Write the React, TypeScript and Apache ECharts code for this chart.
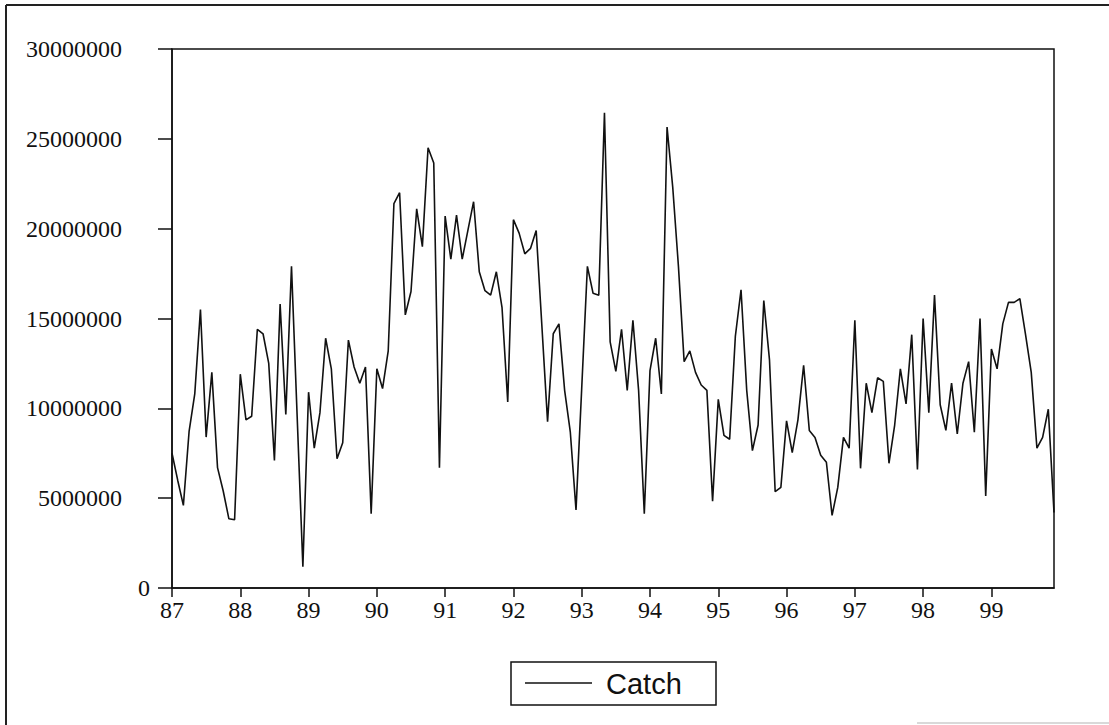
import React, { useEffect, useRef } from 'react';
import * as echarts from 'echarts';

const years = ['87', '88', '89', '90', '91', '92', '93', '94', '95', '96', '97', '98', '99'];
const monthCodes = ['01', '02', '03', '04', '05', '06', '07', '08', '09', '10', '11', '12'];
const categories = years.flatMap((y) => monthCodes.map((m) => `${y}:${m}`));

const catchValues = [
  7500000, 6000000, 4600000, 8700000, 10800000, 15500000, 8400000, 12000000, 6700000, 5400000, 3850000, 3800000,
  11900000, 9360000, 9560000, 14400000, 14150000, 12500000, 7100000, 15800000, 9660000, 17900000, 9500000, 1180000,
  10900000, 7780000, 9760000, 13900000, 12200000, 7190000, 8080000, 13800000, 12300000, 11400000, 12300000, 4140000,
  12200000, 11100000, 13200000, 21400000, 22000000, 15200000, 16500000, 21100000, 19000000, 24500000, 23650000, 6700000,
  20700000, 18300000, 20750000, 18300000, 19900000, 21500000, 17600000, 16550000, 16300000, 17600000, 15600000, 10350000,
  20500000, 19750000, 18600000, 18900000, 19900000, 14600000, 9260000, 14150000, 14700000, 11000000, 8670000, 4340000,
  11100000, 17900000, 16400000, 16300000, 26450000, 13700000, 12060000, 14400000, 11000000, 14900000, 11000000, 4140000,
  12100000, 13900000, 10800000, 25660000, 22300000, 17900000, 12600000, 13200000, 12000000, 11300000, 11000000, 4830000,
  10500000, 8500000, 8280000, 14000000, 16600000, 11000000, 7650000, 9070000, 16000000, 12700000, 5360000, 5600000,
  9300000, 7530000, 9360000, 12400000, 8770000, 8380000, 7390000, 7000000, 4040000, 5600000, 8380000, 7780000,
  14900000, 6660000, 11400000, 9760000, 11700000, 11500000, 6940000, 9070000, 12200000, 10250000, 14100000, 6600000,
  15000000, 9760000, 16300000, 10200000, 8770000, 11400000, 8570000, 11400000, 12600000, 8670000, 15000000, 5120000,
  13300000, 12200000, 14700000, 15900000, 15900000, 16100000, 14100000, 12000000, 7780000, 8380000, 9950000, 4200000,
];

const yMin = 0;
const yMax = 30000000;
const yStep = 5000000;
const seriesName = 'Catch';

const serif = '"Liberation Serif", "Times New Roman", serif';
const sans = '"Liberation Sans", Arial, sans-serif';
const ink = '#111';

export default function App() {
  const ref = useRef<HTMLDivElement>(null);

  useEffect(() => {
    if (!ref.current) return;
    const chart = echarts.init(ref.current, null, { renderer: 'svg' });
    chart.setOption({
      animation: false,
      backgroundColor: '#ffffff',
      grid: {
        left: 172,
        right: 55,
        top: 49,
        bottom: 137,
        show: true,
        borderColor: ink,
        borderWidth: 1.5,
        backgroundColor: 'transparent',
      },
      xAxis: {
        type: 'category',
        data: categories,
        boundaryGap: false,
        axisLine: { show: true, lineStyle: { color: ink, width: 1.5 } },
        axisTick: {
          show: true,
          interval: (i: number) => i % 12 === 0,
          length: 9,
          lineStyle: { color: ink, width: 1.5 },
        },
        axisLabel: {
          interval: (i: number) => i % 12 === 0,
          formatter: (v: string) => v.split(':')[0],
          fontFamily: serif,
          fontSize: 24,
          color: ink,
          margin: 10,
        },
        splitLine: { show: false },
      },
      yAxis: {
        type: 'value',
        min: yMin,
        max: yMax,
        interval: yStep,
        axisLine: { show: true, lineStyle: { color: ink, width: 1.5 } },
        axisTick: { show: true, length: 14, lineStyle: { color: ink, width: 1.5 } },
        axisLabel: {
          margin: 22,
          formatter: (v: number) => (v === 0 ? '{z|0}' : `{n|${v}}`),
          rich: {
            n: { fontFamily: serif, fontSize: 24, color: ink, padding: [0, 28, 0, 0] },
            z: { fontFamily: serif, fontSize: 24, color: ink },
          },
        },
        splitLine: { show: false },
      },
      series: [
        {
          name: seriesName,
          type: 'line',
          data: catchValues,
          symbol: 'none',
          showSymbol: false,
          silent: true,
          lineStyle: { color: ink, width: 1.6 },
        },
      ],
      graphic: [
        { type: 'line', shape: { x1: 6, y1: 5, x2: 6, y2: 725 }, style: { stroke: '#222', lineWidth: 2 } },
        { type: 'line', shape: { x1: 6, y1: 5, x2: 1109, y2: 5 }, style: { stroke: '#222', lineWidth: 2 } },
        { type: 'line', shape: { x1: 917, y1: 723, x2: 1109, y2: 723 }, style: { stroke: '#ccc', lineWidth: 1.5 } },
        {
          type: 'rect',
          shape: { x: 511, y: 662, width: 205, height: 43 },
          style: { fill: 'none', stroke: ink, lineWidth: 1.5 },
        },
        { type: 'line', shape: { x1: 525, y1: 683, x2: 592, y2: 683 }, style: { stroke: ink, lineWidth: 1.5 } },
        {
          type: 'text',
          x: 606,
          y: 684,
          style: { text: seriesName, font: `29px ${sans}`, fill: ink, verticalAlign: 'middle', align: 'left' },
        },
      ],
    });
    return () => chart.dispose();
  }, []);

  return (
    <div
      ref={ref}
      style={{ position: 'fixed', left: 0, top: 0, width: 1109, height: 725, background: '#fff' }}
    />
  );
}
